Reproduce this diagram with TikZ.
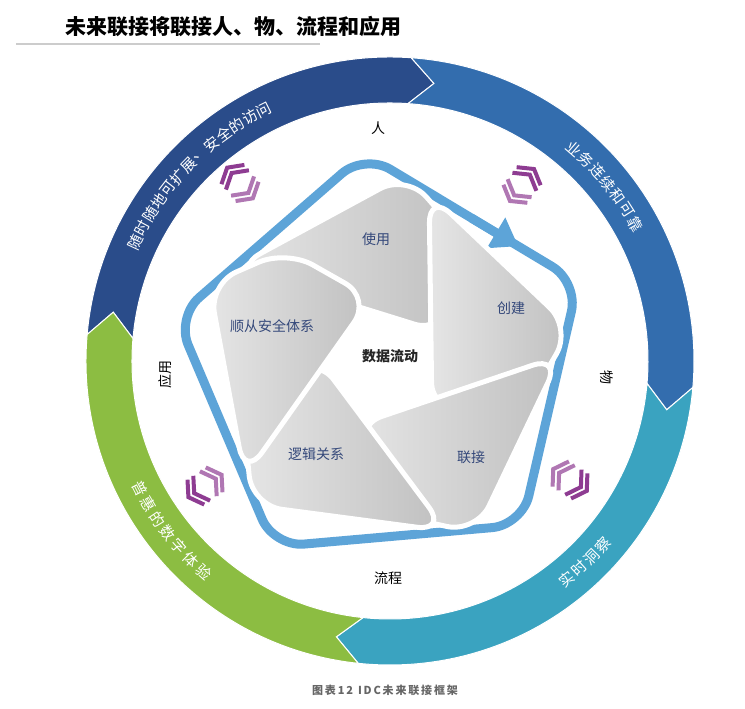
\documentclass[tikz,border=0pt]{standalone}
\usepackage{fontspec}
\setmainfont{Noto Sans CJK SC}
\usetikzlibrary{arrows.meta,calc}
\definecolor{navy}{HTML}{2A4C8A}
\definecolor{ringblue}{HTML}{336DAE}
\definecolor{teal}{HTML}{3AA3C0}
\definecolor{green}{HTML}{8CBD42}
\definecolor{pent}{HTML}{5DA4D8}
\definecolor{chev}{HTML}{8E3C92}
\definecolor{bladetxt}{HTML}{34487A}
\tikzset{
  ringtxt/.style={text=white, font=\fontsize{15}{15}\selectfont, inner sep=0pt},
  bladetxt/.style={text=bladetxt, font=\fontsize{14}{14}\selectfont},
  side/.style={text=black, font=\fontsize{14}{14}\selectfont},
  blade/.style={rounded corners=30pt, left color=gray!20, right color=gray!50, draw=white, line width=5pt},
  chevline/.style={chev, line width=4pt, line join=miter}
}
\newcommand{\chevpair}[3]{%
  \begin{scope}[shift={(#1,#2)}, rotate=#3]
    \foreach \s in {4,11} {
      \draw[chevline] (\s,15) -- (\s+9,0) -- (\s,-15);
      \draw[chevline, chev!70] (-\s,15) -- (-\s-9,0) -- (-\s,-15);
    }
  \end{scope}}
\begin{document}
\begin{tikzpicture}[x=1pt,y=1pt]
    \useasboundingbox (0,0) rectangle (745,709);
    \fill[white] (0,0) rectangle (745,709);

    % title
    \node[font=\bfseries\fontsize{21}{21}\selectfont, anchor=west] (title) at (62,682) {未来联接将联接人、物、流程和应用};
    \draw[gray!40, line width=1.2pt] (16,665) -- (320,665);
    \node[font=\bfseries\fontsize{11}{11}\selectfont, text=gray!80!black] (caption) at (385,19) {图\,表\,1\,2\ \ I\,D\,C\,未\,来\,联\,接\,框\,架};

    \begin{scope}[shift={(390,348)}]
    % outer ring
    \foreach \a/\b/\col in {175/86/navy, 86/-5/ringblue, -5/-96/teal, -96/-185/green}
      \fill[\col, draw=white, line width=1pt] (\a:304) arc[start angle=\a, end angle=\b, radius=304]
        -- ({\b-5}:281) -- (\b:258) arc[start angle=\b, end angle=\a, radius=258] -- ({\a-5}:281) -- cycle;

    \foreach \c [count=\i] in {随,时,随,地,可,扩,展,、,安,全,的,访,问}
      \node[ringtxt, rotate={155-3.2*(\i-1)-90}] at ({155-3.2*(\i-1)}:281) {\c};
    \foreach \c [count=\i] in {业,务,连,续,和,可,靠}
      \node[ringtxt, rotate={49-3.3*(\i-1)-90}] at ({49-3.3*(\i-1)}:281) {\c};
    \foreach \c [count=\i] in {实,时,洞,察}
      \node[ringtxt, rotate={-51+3.4*(\i-1)+90}] at ({-51+3.4*(\i-1)}:281) {\c};
    \foreach \c [count=\i] in {普,惠,的,数,字,体,验}
      \node[ringtxt, rotate={-153+3.6*(\i-1)+90}] at ({-153+3.6*(\i-1)}:281) {\c};

    % chevrons
    \chevpair{-150}{178}{130}
    \chevpair{132}{176}{53}
    \chevpair{180}{-119}{-33}
    \chevpair{-185}{-125}{-146}

    % side labels
    \node[side] (ren) at (-12,233) {人};
    \node[side, rotate=-90] (wu) at (217,-17) {物};
    \node[side] (liucheng) at (-2,-217) {流程};
    \node[side, rotate=90] (yingyong) at (-225,-14) {应用};

    \begin{scope}[shift={(-7,-4)}]
    % pentagon
    \draw[pent, line width=9pt, rounded corners=30pt] (95:212) -- (23:212) -- (-49:212) -- (-121:212) -- (167:212) -- cycle;
    \draw[pent, line width=9pt, -{Triangle[width=34pt,length=26pt]}] ($(95:212)!0.5!(23:212)$) -- ($(95:212)!0.72!(23:212)$);

    % blades
    \foreach \k in {0,...,4}
      \path[blade] ({147-72*\k}:178) -- ({83-72*\k}:192) -- ({58-72*\k}:150) -- ({28-72*\k}:68) -- cycle;

    \node[bladetxt] (shiyong) at (-7,126) {使用};
    \node[bladetxt] (chuangjian) at (128,57) {创建};
    \node[bladetxt] (lianjie) at (88,-92) {联接};
    \node[bladetxt] (luoji) at (-67,-89) {逻辑关系};
    \node[bladetxt] (shuncong) at (-111,39) {顺从安全体系};
    \node[font=\bfseries\fontsize{14}{14}\selectfont, text=gray!30!black] (shuju) at (7,9) {数据流动};
    \end{scope}
    \end{scope}
\end{tikzpicture}
\end{document}
